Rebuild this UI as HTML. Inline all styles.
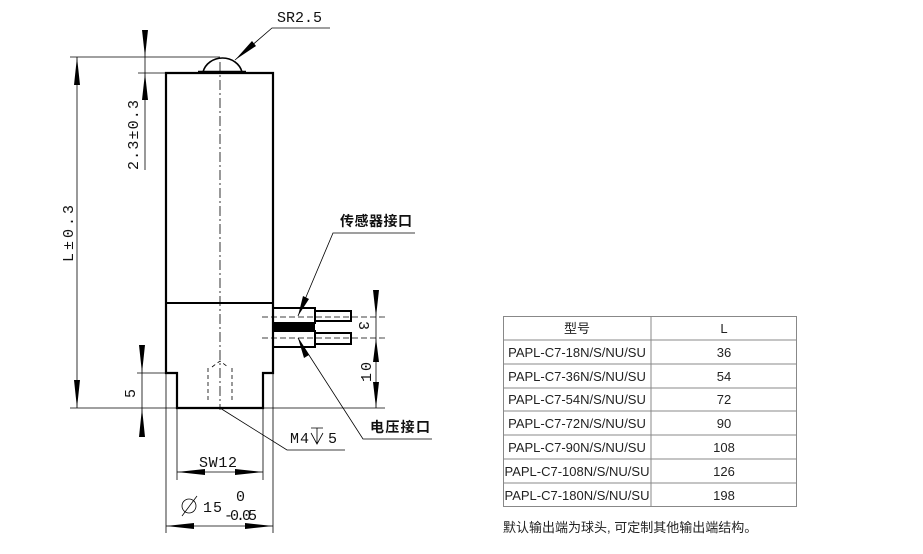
<!DOCTYPE html>
<html><head><meta charset="utf-8"><style>
html,body{margin:0;padding:0;background:#fff;}
svg{display:block;}
.t{font-family:"Liberation Sans","Noto Sans CJK SC",sans-serif;font-size:13px;fill:#222;}
.d{font-family:"Liberation Mono",monospace;font-size:15px;fill:#111;}
.c{font-family:"Noto Sans CJK SC",sans-serif;font-size:14px;font-weight:bold;fill:#111;}
</style></head><body>
<svg width="923" height="554" viewBox="0 0 923 554" xmlns="http://www.w3.org/2000/svg">
<g stroke="#000" fill="none">
<path d="M166,73 H273 V373 H263 V408 H177 V373 H166 Z" stroke-width="2.2"/>
<line x1="166" y1="303" x2="273" y2="303" stroke-width="2"/>
<path d="M203,72 A20,18 0 0 1 242,72" stroke-width="1.6"/>
<line x1="198" y1="72" x2="246" y2="72" stroke-width="2.5"/>
<line x1="220" y1="62" x2="220" y2="410" stroke-width="0.8" stroke-dasharray="10,3,2,3"/>
<path d="M208,400 V367 M232,400 V367 M212,367 L220,361 L228,367" stroke-width="0.8" stroke-dasharray="4,3"/>
<rect x="273" y="308" width="42" height="15" stroke-width="2"/>
<rect x="273" y="331" width="42" height="16" stroke-width="2"/>
<rect x="273" y="323" width="42" height="8" fill="#000" stroke="none"/>
<rect x="315" y="311" width="36" height="10" stroke-width="2"/>
<rect x="315" y="333" width="36" height="11" stroke-width="2"/>
<line x1="262" y1="317" x2="385" y2="317" stroke-width="0.7" stroke-dasharray="6,3"/>
<line x1="262" y1="338" x2="385" y2="338" stroke-width="0.7" stroke-dasharray="6,3"/>
<g stroke-width="0.8">
<line x1="70" y1="57" x2="220" y2="57"/>
<line x1="138" y1="73" x2="166" y2="73"/>
<line x1="70" y1="408" x2="385" y2="408"/>
<line x1="137" y1="373" x2="166" y2="373"/>
<line x1="77" y1="57" x2="77" y2="408"/>
<line x1="145" y1="30" x2="145" y2="170"/>
<line x1="142" y1="345" x2="142" y2="437"/>
<line x1="376" y1="290" x2="376" y2="408"/>
<line x1="177" y1="408" x2="177" y2="480"/>
<line x1="263" y1="408" x2="263" y2="480"/>
<line x1="166" y1="373" x2="166" y2="533"/>
<line x1="273" y1="373" x2="273" y2="533"/>
<line x1="177" y1="472" x2="263" y2="472"/>
<line x1="166" y1="526" x2="273" y2="526"/>
<polyline points="235,60 272,28 330,28"/>
<polyline points="298,316 333,233 415,233"/>
<polyline points="298,338 363,439 432,439"/>
<polyline points="220,408 287,450 345,450"/>
<path d="M311,433 L317,444 L323,433 M317,428 V444 M311,428 H323"/>
<circle cx="189" cy="506" r="7"/>
<line x1="182" y1="516" x2="197" y2="496"/>
</g>
</g>
<g fill="#000">
<polygon points="77,57 74,85 80,85"/>
<polygon points="77,408 74,380 80,380"/>
<polygon points="145,57 142,30 148,30"/>
<polygon points="145,73 142,100 148,100"/>
<polygon points="142,373 139,345 145,345"/>
<polygon points="142,408 139,437 145,437"/>
<polygon points="376,317 373,290 379,290"/>
<polygon points="376,338 373,362 379,362"/>
<polygon points="376,408 373,382 379,382"/>
<polygon points="177,472 205,469 205,475"/>
<polygon points="263,472 235,469 235,475"/>
<polygon points="166,526 194,523 194,529"/>
<polygon points="273,526 245,523 245,529"/>
<polygon points="235,60 252,41 256,46"/>
<polygon points="298,316 303,296 309,299"/>
<polygon points="298,338 309,355 304,358"/>
</g>
<text class="d" x="277" y="22" textLength="45">SR2.5</text>
<text class="d" transform="translate(138,170) rotate(-90)" textLength="70">2.3±0.3</text>
<text class="d" transform="translate(73,262) rotate(-90)" textLength="57">L±0.3</text>
<text class="d" transform="translate(135,398) rotate(-90)">5</text>
<text class="d" transform="translate(359,321) rotate(90)">3</text>
<text class="d" transform="translate(371,382) rotate(-90)" textLength="20">10</text>
<text class="d" x="199" y="467" textLength="38">SW12</text>
<text class="d" x="203" y="512" textLength="19">15</text>
<text class="d" x="236" y="501" font-size="11">0</text>
<text class="d" x="224" y="520" font-size="11" textLength="33">-0.05</text>
<text class="d" x="290" y="443" textLength="19">M4</text>
<text class="d" x="328" y="443">5</text>
<text class="c" x="340" y="226" textLength="72">传感器接口</text>
<text class="c" x="370" y="432" textLength="60">电压接口</text>
<g stroke="#888" stroke-width="1" fill="none">
<rect x="503.5" y="316.5" width="293" height="190"/>
<line x1="651" y1="316" x2="651" y2="507"/>
<line x1="503" y1="340" x2="797" y2="340"/>
<line x1="503" y1="364" x2="797" y2="364"/>
<line x1="503" y1="388" x2="797" y2="388"/>
<line x1="503" y1="411" x2="797" y2="411"/>
<line x1="503" y1="435" x2="797" y2="435"/>
<line x1="503" y1="459" x2="797" y2="459"/>
<line x1="503" y1="483" x2="797" y2="483"/>
</g>
<g class="t" text-anchor="middle">
<text x="577" y="333">型号</text><text x="724" y="333">L</text>
<text x="577" y="357">PAPL-C7-18N/S/NU/SU</text><text x="724" y="357">36</text>
<text x="577" y="381">PAPL-C7-36N/S/NU/SU</text><text x="724" y="381">54</text>
<text x="577" y="404">PAPL-C7-54N/S/NU/SU</text><text x="724" y="404">72</text>
<text x="577" y="428">PAPL-C7-72N/S/NU/SU</text><text x="724" y="428">90</text>
<text x="577" y="452">PAPL-C7-90N/S/NU/SU</text><text x="724" y="452">108</text>
<text x="577" y="476">PAPL-C7-108N/S/NU/SU</text><text x="724" y="476">126</text>
<text x="577" y="500">PAPL-C7-180N/S/NU/SU</text><text x="724" y="500">198</text>
</g>
<text class="t" x="503" y="532">默认输出端为球头, 可定制其他输出端结构。</text>
</svg>
</body></html>
